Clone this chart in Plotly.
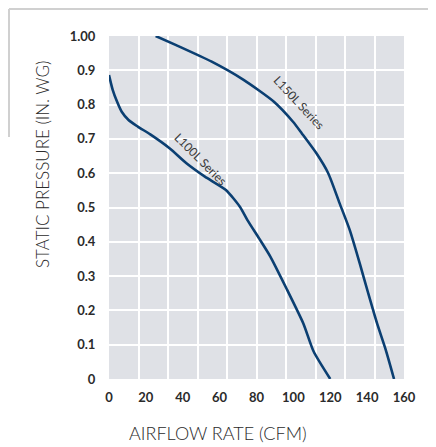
import plotly.graph_objects as go

# ---- data (airflow in CFM, pressure in in. WG) ----
l100_cfm = [0, 2, 4.4, 6.9, 10.6, 15.6, 22.4, 33, 42, 52, 63.4, 71, 75, 81.4, 87.5, 96.7, 105.4, 111, 120]
l100_pressure = [0.886, 0.843, 0.808, 0.779, 0.755, 0.736, 0.713, 0.672, 0.629, 0.59, 0.551, 0.502,
                 0.464, 0.41, 0.357, 0.259, 0.162, 0.08, 0.0]

l150_cfm = [25.3, 36.1, 55.7, 73.0, 89.3, 99.8, 104.6, 112.5, 118.9, 125.1, 130.6, 136.0, 140.6, 145.4, 150.1, 154.6]
l150_pressure = [1.0, 0.974, 0.925, 0.872, 0.809, 0.75, 0.716, 0.658, 0.6, 0.512, 0.434, 0.337, 0.25,
                 0.162, 0.085, 0.0]

x_ticks = [0, 20, 40, 60, 80, 100, 120, 140, 160]
y_ticks = [0, 0.1, 0.2, 0.3, 0.4, 0.5, 0.6, 0.7, 0.8, 0.9, 1.0]
y_tick_text = ["0", "0.1", "0.2", "0.3", "0.4", "0.5", "0.6", "0.7", "0.8", "0.9", "1.00"]

LINE = "#0b3f72"
TXT = "#2b2b2b"
FONT = "Lato, Open Sans, sans-serif"

# page body has an 8px margin, so the figure is 8px smaller and margins compensate
W, H = 428, 439
L, R, T, B = 101, 32, 28, 68
PW, PH = W - L - R, H - T - B  # plot area size in px


def px_x(px):  # screen px -> paper x
    return (px - 8 - L) / PW


def px_y(py):  # screen px -> paper y
    return (H - B + 8 - py) / PH


fig = go.Figure()
fig.add_trace(go.Scatter(x=l100_cfm, y=l100_pressure, mode="lines", name="L100L Series",
                         line=dict(color=LINE, width=2.6, shape="spline", smoothing=0.6)))
fig.add_trace(go.Scatter(x=l150_cfm, y=l150_pressure, mode="lines", name="L150L Series",
                         line=dict(color=LINE, width=2.6, shape="spline", smoothing=0.6)))

fig.add_annotation(x=50, y=0.641, text="L100L Series", showarrow=False, textangle=45,
                   font=dict(family=FONT, size=12, color="#3a3a3a"))
fig.add_annotation(x=102.9, y=0.805, text="L150L Series", showarrow=False, textangle=47,
                   font=dict(family=FONT, size=12, color="#3a3a3a"))

# axis titles placed as annotations
fig.add_annotation(xref="paper", yref="paper", x=px_x(218), y=px_y(433),
                   xanchor="center", yanchor="middle",
                   text="AIRFLOW RATE (CFM)", showarrow=False,
                   font=dict(family=FONT, size=18, weight=300, color=TXT))
fig.add_annotation(xref="paper", yref="paper", x=px_x(42), y=px_y(165),
                   xanchor="center", yanchor="middle",
                   text="STATIC PRESSURE (IN. WG)", showarrow=False, textangle=-90,
                   font=dict(family=FONT, size=17, weight=300, color=TXT))

# light frame lines
fig.add_shape(type="line", xref="paper", yref="paper", x0=px_x(9), x1=px_x(436),
              y0=px_y(9), y1=px_y(9), line=dict(color="#d0d0d0", width=2))
fig.add_shape(type="line", xref="paper", yref="paper", x0=px_x(9), x1=px_x(9),
              y0=px_y(9), y1=px_y(137), line=dict(color="#d0d0d0", width=2))

fig.update_layout(
    width=W, height=H,
    margin=dict(l=L, r=R, t=T, b=B),
    paper_bgcolor="white", plot_bgcolor="#dfe1e6",
    showlegend=False,
    font=dict(family=FONT, color=TXT),
)
fig.update_xaxes(range=[0, 160], tickvals=x_ticks, showgrid=False, zeroline=False,
                 ticks="outside", ticklen=6, tickcolor="rgba(0,0,0,0)",
                 tickfont=dict(family=FONT, size=13, weight="bold", color=TXT),
                 minor=dict(dtick=16, tick0=0, showgrid=True, gridcolor="white", gridwidth=2),
                 showline=False)
fig.update_yaxes(range=[0, 1.0], tickvals=y_ticks, ticktext=y_tick_text, showgrid=True,
                 gridcolor="white", gridwidth=2, zeroline=False,
                 ticks="outside", ticklen=10, tickcolor="rgba(0,0,0,0)",
                 tickfont=dict(family=FONT, size=13, weight="bold", color=TXT), showline=False)

fig.write_html("out.html")
